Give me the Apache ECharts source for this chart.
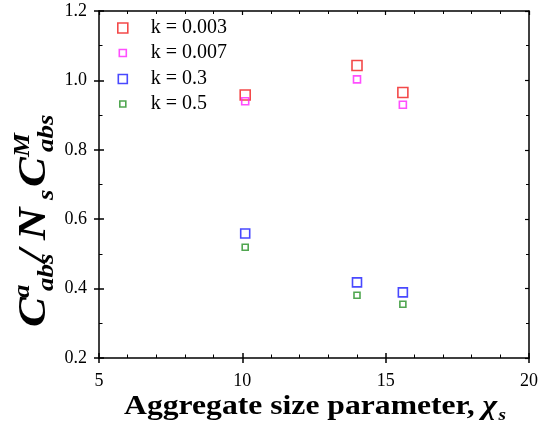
<!DOCTYPE html>
<html>
<head>
<meta charset="utf-8">
<script src="https://cdn.jsdelivr.net/npm/echarts@6/dist/echarts.min.js"></script>
<style>
  html, body { margin: 0; padding: 0; background: #fff; }
  #chart { width: 541px; height: 431px; }
</style>
</head>
<body>
<div id="chart"></div>
<script>
// data
const sizeParam = [10.1, 14.0, 15.6];
const k003 = [0.958, 1.043, 0.965];
const k007 = [0.940, 1.003, 0.930];
const k03 = [0.559, 0.418, 0.389];
const k05 = [0.519, 0.381, 0.355];
const seriesNames = ['k = 0.003', 'k = 0.007', 'k = 0.3', 'k = 0.5'];
const seriesValues = [k003, k007, k03, k05];
const colors = ['#f01c1c', '#ff22ff', '#1c1cff', '#249024'];
const markSizes = [10, 7, 9, 6];

const serif = '"Liberation Serif", "Times New Roman", serif';
const chart = echarts.init(document.getElementById('chart'));

// measure helper for the x title
const ctx = document.createElement('canvas').getContext('2d');
function textWidth(t, font) {
  ctx.font = font;
  return ctx.measureText(t).width;
}

function piece(t, at, size, base, weight) {
  const font = (weight || 'italic bold') + ' ' + size + 'px ' + serif;
  return {
    type: 'text',
    x: at, y: base - 0.34 * size,
    style: { text: t, font: font, fill: '#000', align: 'left', verticalAlign: 'middle' }
  };
}

// y title: C^a_abs / N_s C^M_abs, offsets along the text (screen px)
const yStretch = 1.12;
const yTitleLen = 210;
const yTitleEls = [
  ['C', 0, 40, 0], ['a', 29, 24, -17], ['abs', 36, 24, 7],
  ['/', 65, 40, 0], ['N', 87, 40, 0], ['s', 127, 24, 7],
  ['C', 140, 40, 0], ['M', 170, 24, -17], ['abs', 175, 24, 7]
].map(p => piece(p[0], p[1] / yStretch, p[2], p[3]));

// x title: Aggregate size parameter, chi_s
const xMain = 'Aggregate size parameter, ';
const xMainW = textWidth(xMain, 'bold 28px ' + serif);
const chiW = textWidth('\u03c7', 'italic bold 28px ' + serif);
const xTitleEls = [
  piece(xMain, 0, 28, 0, 'bold'),
  piece('\u03c7', xMainW, 28, 0),
  piece('s', xMainW + chiW + 1, 17, 5)
];
const xTitleW = xMainW + chiW + 1 + textWidth('s', 'italic bold 17px ' + serif);

const tickColor = '#000';
function axisBase(min, max, interval) {
  return {
    type: 'value', min: min, max: max, interval: interval,
    splitLine: { show: false },
    axisLine: { show: true, onZero: false, lineStyle: { color: '#000', width: 1.5 } }
  };
}

function mainAxis(min, max, interval, pos, minorSplit, margin) {
  return Object.assign(axisBase(min, max, interval), {
    position: pos,
    axisTick: { inside: true, length: 5, lineStyle: { color: tickColor, width: 1.5 } },
    minorTick: { show: true, splitNumber: minorSplit, length: 3.5, lineStyle: { color: tickColor, width: 1 } },
    axisLabel: {
      color: '#000', fontFamily: serif, fontSize: 18, margin: margin,
      formatter: v => (pos === 'left' ? v.toFixed(1) : String(v))
    }
  });
}

function outerTicks(min, max, interval, pos) {
  return Object.assign(axisBase(min, max, interval), {
    position: pos,
    axisLine: { show: false, onZero: false },
    axisTick: { inside: false, length: 5, lineStyle: { color: tickColor, width: 1.5 } },
    axisLabel: { show: false }
  });
}

function frameAxis(min, max, interval, pos, minorSplit) {
  return Object.assign(axisBase(min, max, interval), {
    position: pos,
    axisTick: { inside: true, length: 4, lineStyle: { color: tickColor, width: 1.2 } },
    minorTick: { show: true, splitNumber: minorSplit, length: 3, lineStyle: { color: tickColor, width: 1 } },
    axisLabel: { show: false }
  });
}

const legendRows = [28, 53, 79, 104];
const legendIconX = 122;
const legendTextX = 150;

const option = {
  backgroundColor: '#fff',
  animation: false,
  grid: { left: 99, right: 10, top: 11, bottom: 73 },
  xAxis: [
    mainAxis(5, 20, 5, 'bottom', 5, 14),
    outerTicks(5, 20, 5, 'bottom'),
    frameAxis(5, 20, 5, 'top', 5)
  ],
  yAxis: [
    mainAxis(0.2, 1.2, 0.2, 'left', 2, 12),
    outerTicks(0.2, 1.2, 0.2, 'left'),
    frameAxis(0.2, 1.2, 0.2, 'right', 2)
  ],
  legend: seriesNames.map((name, i) => {
    const w = markSizes[i];
    const left = legendIconX - w / 2;
    return {
      left: left, top: legendRows[i] - 10,
      padding: 0,
      itemWidth: w, itemHeight: w,
      icon: 'rect',
      selectedMode: false,
      textStyle: {
        color: '#000', fontFamily: serif, fontSize: 20,
        padding: [0, 0, 0, legendTextX - (left + w + 5)]
      },
      data: [{
        name: name,
        itemStyle: { color: 'rgba(0,0,0,0)', borderColor: colors[i], borderWidth: 1.6 }
      }]
    };
  }),
  series: seriesNames.map((name, i) => ({
    name: name,
    type: 'scatter',
    xAxisIndex: 0, yAxisIndex: 0,
    symbol: 'rect',
    symbolSize: markSizes[i],
    itemStyle: { color: 'rgba(0,0,0,0)', borderColor: colors[i], borderWidth: 1.6 },
    data: sizeParam.map((x, j) => [x, seriesValues[i][j]])
  })),
  graphic: [
    {
      type: 'group',
      rotation: Math.PI / 2,
      scaleX: yStretch,
      x: 48, y: 222 + yTitleLen / 2,
      children: yTitleEls
    },
    {
      type: 'group',
      scaleX: 1.13,
      x: 315 - 1.13 * xTitleW / 2, y: 416,
      children: xTitleEls
    }
  ]
};

chart.setOption(option);
</script>
</body>
</html>
